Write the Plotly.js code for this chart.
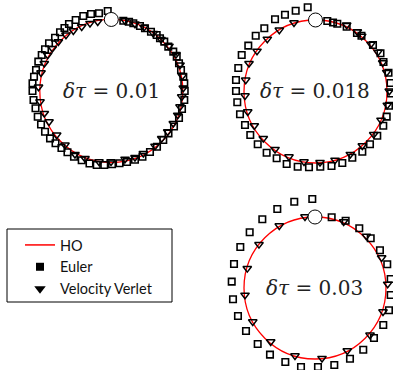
<!DOCTYPE html>
<html>
<head>
<meta charset="utf-8">
<script src="https://cdn.plot.ly/plotly-3.0.1.min.js"></script>
<style>
  html, body { margin: 0; padding: 0; background: #fff; }
  #chart { width: 393px; height: 370px; }
</style>
</head>
<body>
<div id="chart"></div>
<script>
// Phase-space trajectories (x, p) of the harmonic oscillator, one panel per time step.
const stepLabels = ['0.01', '0.018', '0.03'];
const hoRadius = [1, 1, 1];
const startX = [0, 0, 0];
const startY = [1, 1, 1];

// δτ = 0.01
const euler1X = [0.168, 0.248, 0.308, 0.401, 0.471, 0.555, 0.635, 0.681, 0.741, 0.797, 0.867, 0.915, 0.947, 0.975, 1.007, 1.021, 1.027, 1.021, 0.989, 0.947, 0.877, 0.800, 0.727, 0.639, 0.541, 0.436, 0.331, 0.220, 0.115, 0.010, -0.098, -0.204, -0.305, -0.414, -0.522, -0.613, -0.697, -0.780, -0.857, -0.927, -0.983, -1.029, -1.060, -1.088, -1.102, -1.102, -1.081, -1.053, -1.021, -0.973, -0.927, -0.871, -0.787, -0.717, -0.655, -0.592, -0.498, -0.392, -0.284, -0.172, -0.050];
const euler1Y = [0.983, 0.969, 0.947, 0.909, 0.877, 0.829, 0.783, 0.737, 0.690, 0.620, 0.550, 0.480, 0.387, 0.294, 0.200, 0.108, 0.000, -0.126, -0.252, -0.378, -0.497, -0.592, -0.685, -0.779, -0.853, -0.919, -0.961, -0.993, -1.011, -1.025, -1.035, -1.035, -1.014, -0.969, -0.919, -0.857, -0.797, -0.731, -0.662, -0.569, -0.469, -0.359, -0.242, -0.126, 0.000, 0.108, 0.200, 0.294, 0.410, 0.503, 0.583, 0.667, 0.745, 0.821, 0.881, 0.937, 0.993, 1.049, 1.077, 1.087, 1.119];
const verlet1X = [0.192, 0.331, 0.457, 0.587, 0.695, 0.807, 0.905, 0.961, 0.993, 1.007, 0.985, 0.961, 0.929, 0.867, 0.789, 0.705, 0.611, 0.448, 0.331, 0.192, -0.004, -0.172, -0.368, -0.508, -0.648, -0.764, -0.871, -0.937, -0.997, -1.018, -0.983, -0.937, -0.890, -0.825, -0.741, -0.634, -0.531, -0.414, -0.298, -0.190];
const verlet1Y = [0.983, 0.937, 0.891, 0.807, 0.723, 0.629, 0.513, 0.364, 0.210, 0.042, -0.080, -0.220, -0.336, -0.452, -0.569, -0.662, -0.769, -0.871, -0.927, -0.951, -0.989, -0.989, -0.941, -0.885, -0.755, -0.615, -0.429, -0.312, -0.150, 0.056, 0.256, 0.387, 0.503, 0.597, 0.690, 0.783, 0.843, 0.899, 0.947, 0.969];

// δτ = 0.018
const euler2X = [0.165, 0.245, 0.305, 0.436, 0.580, 0.643, 0.804, 0.909, 0.951, 1.021, 1.049, 1.056, 1.028, 0.996, 0.948, 0.864, 0.762, 0.655, 0.515, 0.375, 0.224, 0.067, -0.091, -0.249, -0.403, -0.543, -0.683, -0.808, -0.912, -0.986, -1.056, -1.094, -1.112, -1.112, -1.080, -1.032, -0.940, -0.836, -0.716, -0.566, -0.427, -0.277, -0.109];
const euler2Y = [0.986, 0.965, 0.948, 0.906, 0.818, 0.780, 0.650, 0.534, 0.413, 0.263, 0.119, -0.028, -0.199, -0.352, -0.478, -0.618, -0.738, -0.842, -0.926, -1.000, -1.042, -1.052, -1.060, -1.052, -1.014, -0.934, -0.856, -0.738, -0.608, -0.469, -0.319, -0.151, 0.007, 0.161, 0.329, 0.510, 0.641, 0.780, 0.884, 1.010, 1.074, 1.130, 1.178];
const verlet2X = [0.436, 0.585, 0.646, 0.776, 0.874, 0.940, 0.996, 1.032, 1.004, 0.916, 0.814, 0.655, 0.487, 0.273, 0.063, -0.161, -0.371, -0.566, -0.730, -0.856, -0.948, -0.986, -0.976, -0.930, -0.818, -0.674, -0.506, -0.301];
const verlet2Y = [0.930, 0.836, 0.776, 0.664, 0.552, 0.403, 0.269, 0.007, -0.189, -0.399, -0.599, -0.758, -0.878, -0.958, -0.990, -0.982, -0.912, -0.808, -0.655, -0.478, -0.283, -0.059, 0.161, 0.394, 0.566, 0.734, 0.860, 0.962];

// δτ = 0.03
const euler3X = [0.235, 0.432, 0.624, 0.785, 0.915, 1.018, 1.066, 1.066, 1.042, 0.962, 0.831, 0.680, 0.493, 0.272, 0.042, -0.197, -0.418, -0.634, -0.807, -0.972, -1.085, -1.155, -1.173, -1.141, -1.052, -0.920, -0.742, -0.531, -0.292, -0.038];
const euler3Y = [0.996, 0.948, 0.841, 0.700, 0.531, 0.334, 0.127, -0.099, -0.314, -0.521, -0.704, -0.869, -0.996, -1.085, -1.113, -1.113, -1.042, -0.939, -0.789, -0.606, -0.394, -0.159, 0.089, 0.338, 0.577, 0.785, 0.968, 1.113, 1.215, 1.254];
const verlet3X = [0.404, 0.723, 0.939, 1.024, 0.958, 0.775, 0.455, 0.099, -0.282, -0.624, -0.877, -0.986, -0.954, -0.789, -0.503, -0.141];
const verlet3Y = [0.934, 0.732, 0.427, 0.056, -0.334, -0.662, -0.883, -0.990, -0.954, -0.756, -0.475, -0.099, 0.277, 0.615, 0.877, 1.004];

const eulerX = [euler1X, euler2X, euler3X];
const eulerY = [euler1Y, euler2Y, euler3Y];
const verletX = [verlet1X, verlet2X, verlet3X];
const verletY = [verlet1Y, verlet2Y, verlet3Y];

const axisSuffix = ['', '2', '3'];
const traces = [];

// Legend entries (solid symbols)
traces.push({
  x: [null], y: [null], type: 'scatter', mode: 'lines', name: 'HO',
  line: { color: '#ff0000', width: 1.5 }, showlegend: true
});
traces.push({
  x: [null], y: [null], type: 'scatter', mode: 'markers', name: 'Euler',
  marker: { symbol: 'square', color: '#000', size: 8 }, showlegend: true
});
traces.push({
  x: [null], y: [null], type: 'scatter', mode: 'markers', name: 'Velocity Verlet',
  marker: { symbol: 'triangle-down', color: '#000', size: 10 }, showlegend: true
});

for (let i = 0; i < 3; i++) {
  const xa = 'x' + axisSuffix[i];
  const ya = 'y' + axisSuffix[i];
  traces.push({
    x: eulerX[i], y: eulerY[i], xaxis: xa, yaxis: ya,
    type: 'scatter', mode: 'markers', showlegend: false, cliponaxis: false,
    marker: { symbol: 'square-open', color: '#000', size: 6.5, line: { width: 1.6, color: '#000' } }
  });
  traces.push({
    x: verletX[i], y: verletY[i], xaxis: xa, yaxis: ya,
    type: 'scatter', mode: 'markers', showlegend: false, cliponaxis: false,
    marker: { symbol: 'triangle-down-open', color: '#000', size: 7.5, line: { width: 1.5, color: '#000' } }
  });
  traces.push({
    x: [startX[i]], y: [startY[i]], xaxis: xa, yaxis: ya,
    type: 'scatter', mode: 'markers', showlegend: false, cliponaxis: false,
    marker: { symbol: 'circle', color: '#fff', size: 14, line: { width: 1, color: '#000' } }
  });
}

const hiddenAxis = (range, domain, anchor) => ({
  range: range, domain: domain, anchor: anchor, visible: false,
  showgrid: false, zeroline: false, fixedrange: true
});

// Each shape: the exact oscillator orbit of radius hoRadius[i]
const shapes = hoRadius.map((r, i) => ({
  type: 'circle', xref: 'x' + axisSuffix[i], yref: 'y' + axisSuffix[i],
  x0: -r, x1: r, y0: -r, y1: r, layer: 'below',
  line: { color: '#ff0000', width: 1.3 }
}));
// legend frame
shapes.push({
  type: 'rect', xref: 'paper', yref: 'paper',
  x0: 7 / 393, x1: 172 / 393, y0: 1 - 302 / 370, y1: 1 - 229 / 370,
  line: { color: '#000', width: 1 }, fillcolor: 'rgba(0,0,0,0)'
});

const annotations = stepLabels.map((s, i) => ({
  xref: 'x' + axisSuffix[i], yref: 'y' + axisSuffix[i],
  x: 0, y: 0, showarrow: false,
  text: '<i>δτ</i> = ' + s,
  font: { family: 'DejaVu Serif', size: 20, color: '#222' }
}));

const layout = {
  width: 393, height: 370,
  margin: { l: 0, r: 0, t: 0, b: 0 },
  paper_bgcolor: '#fff', plot_bgcolor: 'rgba(0,0,0,0)',
  showlegend: true,
  legend: {
    x: 20 / 393, y: 1 - 229 / 370, xanchor: 'left', yanchor: 'top',
    bgcolor: 'rgba(0,0,0,0)', borderwidth: 0,
    font: { family: 'Lato', size: 14.5, color: '#111' }
  },
  xaxis: hiddenAxis([-1.3, 1.3], [0.04669, 0.51972], 'y'),
  yaxis: hiddenAxis([-1.25, 1.25], [0.5124, 0.9957], 'x'),
  xaxis2: hiddenAxis([-1.3, 1.084], [0.56628, 1], 'y2'),
  yaxis2: hiddenAxis([-1.25, 1.25], [0.5111, 0.9943], 'x2'),
  xaxis3: hiddenAxis([-1.3, 1.099], [0.5667, 1], 'y3'),
  yaxis3: hiddenAxis([-1.15, 1.3], [0.00095, 0.4711], 'x3'),
  shapes: shapes,
  annotations: annotations
};

Plotly.newPlot('chart', traces, layout, { displayModeBar: false, staticPlot: true });
</script>
</body>
</html>
